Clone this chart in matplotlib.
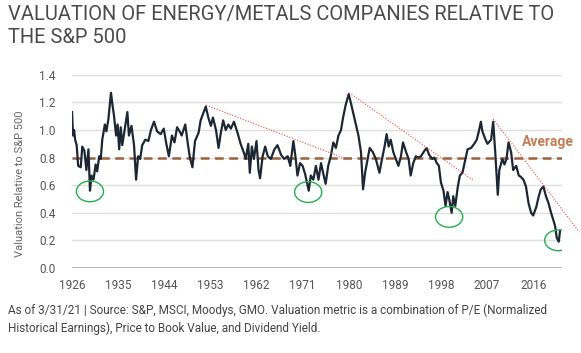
import matplotlib
matplotlib.use("Agg")
import matplotlib.pyplot as plt
from matplotlib.patches import Ellipse

narrow = ['Liberation Sans Narrow', 'Roboto', 'DejaVu Sans']

# valuation series (year, value)
years = [1926.0, 1926.2, 1926.4, 1926.6, 1926.9, 1927.2, 1927.7, 1928.0, 1928.4, 1928.8,
         1929.2, 1929.5, 1929.8, 1930.2, 1930.6, 1930.9, 1931.3, 1931.6, 1931.9, 1932.4,
         1932.7, 1933.1, 1933.6, 1933.9, 1934.2, 1934.6, 1934.9, 1935.2, 1935.5, 1935.8,
         1936.3, 1936.8, 1937.1, 1937.6, 1938.1, 1938.5, 1938.9, 1939.3, 1939.7, 1940.3,
         1940.9, 1941.4, 1942.0, 1942.6, 1943.3, 1943.9, 1944.4, 1944.9, 1945.5, 1946.0,
         1946.5, 1947.0, 1947.4, 1948.1, 1948.6, 1949.0, 1949.5, 1950.0, 1950.7, 1951.1,
         1951.8, 1952.1, 1952.6, 1953.1, 1953.5, 1954.1, 1954.6, 1955.0, 1955.5, 1956.0,
         1956.5, 1957.0, 1957.6, 1958.3, 1958.9, 1959.5, 1959.9, 1960.4, 1960.7, 1961.1,
         1961.5, 1962.0, 1962.4, 1962.7, 1963.2, 1963.7, 1964.2, 1964.8, 1965.5, 1966.1,
         1966.8, 1967.4, 1968.1, 1968.6, 1969.2, 1969.6, 1970.0, 1970.5, 1971.0, 1971.5,
         1972.2, 1972.6, 1973.1, 1973.6, 1974.1, 1974.6, 1975.0, 1975.5, 1976.0, 1976.5,
         1977.0, 1977.5, 1978.0, 1978.5, 1978.9, 1979.4, 1980.0, 1980.4, 1980.9, 1981.4,
         1981.9, 1982.4, 1982.8, 1983.2, 1983.7, 1984.1, 1984.7, 1985.3, 1986.0, 1986.5,
         1987.0, 1987.4, 1987.8, 1988.2, 1988.7, 1989.2, 1989.7, 1990.2, 1990.6, 1991.2,
         1991.7, 1992.1, 1992.6, 1993.1, 1993.6, 1994.1, 1994.8, 1995.2, 1995.7, 1996.3,
         1996.7, 1997.2, 1997.6, 1998.0, 1998.5, 1998.9, 1999.3, 1999.6, 2000.1, 2000.4,
         2000.8, 2001.3, 2001.7, 2002.2, 2002.8, 2003.2, 2003.9, 2004.5, 2005.0, 2005.4,
         2005.8, 2006.1, 2006.7, 2007.1, 2007.8, 2008.2, 2008.6, 2009.1, 2009.4, 2010.0,
         2010.4, 2010.8, 2011.2, 2011.7, 2012.1, 2012.7, 2013.2, 2013.6, 2014.1, 2014.6,
         2015.1, 2015.6, 2016.0, 2016.6, 2017.1, 2017.5, 2018.0, 2018.5, 2019.0, 2019.5,
         2020.0, 2020.3, 2020.6, 2021.0, 2021.25]
values = [1.13, 0.96, 1.00, 0.93, 0.89, 0.74, 0.73, 0.88, 0.85, 0.71,
          0.86, 0.56, 0.67, 0.64, 0.75, 0.70, 0.81, 0.79, 0.93, 1.04,
          0.99, 1.08, 1.27, 1.18, 1.10, 0.96, 1.04, 0.86, 1.02, 0.89,
          1.01, 1.13, 0.96, 1.03, 0.89, 0.64, 0.81, 0.79, 0.89, 0.93,
          0.92, 1.00, 1.06, 0.99, 0.97, 1.01, 0.90, 0.81, 0.96, 0.91,
          1.02, 0.99, 0.96, 1.04, 0.90, 0.80, 0.73, 0.92, 0.98, 1.07,
          1.14, 1.17, 1.09, 1.03, 1.09, 1.00, 0.87, 0.97, 1.07, 1.00,
          1.04, 1.01, 1.06, 0.98, 0.90, 0.84, 0.79, 0.90, 0.69, 0.88,
          0.79, 0.92, 0.71, 0.65, 0.81, 0.88, 0.81, 0.79, 0.86, 0.89,
          0.82, 0.79, 0.81, 0.74, 0.92, 0.81, 0.67, 0.76, 0.74, 0.68,
          0.56, 0.67, 0.64, 0.74, 0.64, 0.76, 0.69, 0.61, 0.74, 0.81,
          0.91, 0.87, 0.96, 1.00, 1.09, 1.18, 1.26, 1.20, 1.12, 1.04,
          0.96, 0.84, 0.57, 0.69, 0.79, 0.87, 0.84, 0.79, 0.69, 0.79,
          0.88, 0.97, 0.88, 0.93, 0.84, 0.79, 0.74, 0.81, 0.91, 0.84,
          0.79, 0.67, 0.76, 0.81, 0.80, 0.81, 0.85, 0.87, 0.82, 0.79,
          0.80, 0.76, 0.74, 0.62, 0.56, 0.45, 0.55, 0.50, 0.40, 0.52,
          0.45, 0.59, 0.67, 0.69, 0.79, 0.86, 0.87, 0.90, 0.93, 0.99,
          1.06, 0.99, 0.93, 0.90, 0.93, 1.06, 0.84, 0.53, 0.71, 0.79,
          0.75, 0.79, 0.91, 0.84, 0.71, 0.74, 0.67, 0.66, 0.64, 0.59,
          0.47, 0.40, 0.38, 0.44, 0.52, 0.57, 0.59, 0.52, 0.47, 0.40,
          0.34, 0.30, 0.22, 0.19, 0.27]

average = 0.8
tick_years = [1926, 1935, 1944, 1953, 1962, 1971, 1980, 1989, 1998, 2007, 2016]
y_ticks = [0.0, 0.2, 0.4, 0.6, 0.8, 1.0, 1.2, 1.4]

# red dotted trend lines: (x0, y0, x1, y1)
trend_lines = [(1952.2, 1.18, 1979.5, 0.79),
               (1980.1, 1.27, 2004.5, 0.63),
               (2008.2, 1.08, 2025.0, 0.26)]
# green circles marking the lows
low_years = [1929.5, 1972.1, 1999.6, 2020.9]
low_values = [0.555, 0.55, 0.37, 0.20]

title = "VALUATION OF ENERGY/METALS COMPANIES RELATIVE TO\nTHE S&P 500"
note = ("As of 3/31/21 | Source: S&P, MSCI, Moodys, GMO. Valuation metric is a combination of P/E (Normalized\n"
        "Historical Earnings), Price to Book Value, and Dividend Yield.")

fig = plt.figure(figsize=(5.81, 3.53), dpi=100)
ax = fig.add_axes([0.124, 0.241, 0.843, 0.547])

for t in y_ticks[1:]:
    ax.axhline(t, color='#dedede', lw=1.0, zorder=0)
ax.axhline(0, color='#a0a0a0', lw=1.8, zorder=1)
ax.axhline(average, color='#9a6240', lw=1.8, ls=(0, (3.5, 2.2)), zorder=2)
ax.plot(years, values, color='#1c2733', lw=1.6, zorder=3)

for x0, y0, x1, y1 in trend_lines:
    ax.plot([x0, x1], [y0, y1], color='#ef4a3c', lw=0.8, ls=(0, (1, 1.5)),
            clip_on=False, zorder=4)

for lx, ly in zip(low_years, low_values):
    ax.add_patch(Ellipse((lx, ly), 5.3, 0.15, fill=False, edgecolor='#22b04b',
                         lw=1.0, zorder=5))

ax.text(2018.8, 0.91, "Average", color='#c47d52', fontsize=10, fontweight='bold',
        family=narrow, ha='center', va='center')

ax.set_xlim(1926, 2021.6)
ax.set_ylim(0, 1.4)
ax.set_xticks(tick_years)
ax.set_yticks(y_ticks)
ax.set_yticklabels([f"{t:.1f}" for t in y_ticks])
ax.tick_params(length=0, labelsize=8.5, labelcolor='#555555')
ax.tick_params(axis='y', pad=12)
ax.tick_params(axis='x', pad=8)
for lab in ax.get_xticklabels() + ax.get_yticklabels():
    lab.set_family(narrow)
for s in ax.spines.values():
    s.set_visible(False)

fig.text(0.035, 0.48, "Valuation Relative to S&P 500", rotation=90, fontsize=8,
         color='#666666', family=narrow, ha='center', va='center')
fig.text(0.014, 0.985, title, fontsize=14.5, color='#4a4a4a', family=narrow,
         ha='left', va='top', linespacing=1.25)
fig.text(0.014, 0.14, note, fontsize=8.5, color='#444444', family=narrow,
         ha='left', va='top', linespacing=1.45)

fig.savefig("out.png", dpi=100, facecolor='white')
